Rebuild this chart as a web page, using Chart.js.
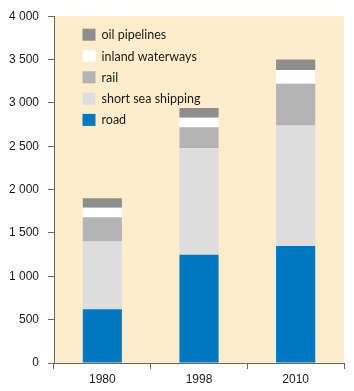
<!DOCTYPE html>
<html>
<head>
<meta charset="utf-8">
<script src="https://cdn.jsdelivr.net/npm/chart.js@4/dist/chart.umd.min.js"></script>
<style>
html,body{margin:0;padding:0;background:#fff;}
#wrap{width:354px;height:391px;position:relative;}
</style>
</head>
<body>
<div id="wrap"><canvas id="c" width="354" height="391"></canvas></div>
<script>
const years = ['1980', '1998', '2010'];
const road = [620, 1250, 1350];
const shortSeaShipping = [780, 1230, 1390];
const rail = [280, 240, 480];
const inlandWaterways = [110, 110, 160];
const oilPipelines = [110, 110, 120];
const yTicks = [0, 500, 1000, 1500, 2000, 2500, 3000, 3500, 4000];

const fmt = v => String(v).replace(/\B(?=(\d{3})+(?!\d))/g, ' ');

const bgPlugin = {
  id: 'bg',
  beforeDraw(chart) {
    const a = chart.chartArea, ctx = chart.ctx;
    ctx.save();
    ctx.fillStyle = '#FEEDCA';
    ctx.fillRect(a.left, a.top, a.right - a.left, a.bottom - a.top);
    ctx.restore();
  }
};

const legendPlugin = {
  id: 'innerLegend',
  afterDatasetsDraw(chart) {
    const a = chart.chartArea, ctx = chart.ctx;
    const ds = chart.data.datasets.slice().reverse();
    ctx.save();
    ctx.font = '12.5px Lato';
    ctx.textBaseline = 'middle';
    ds.forEach((d, i) => {
      const cy = a.top + 18.5 + i * 21.3;
      const x = a.left + 28.5;
      ctx.fillStyle = d.backgroundColor;
      ctx.fillRect(x, cy - 6, 13, 12);
      ctx.fillStyle = '#1a1a1a';
      ctx.fillText(d.label, x + 19, cy + 0.5);
    });
    ctx.restore();
  }
};

const mk = (label, data, color) => ({
  label, data, backgroundColor: color, borderWidth: 0,
  barPercentage: 0.405, categoryPercentage: 1.0
});

new Chart(document.getElementById('c'), {
  type: 'bar',
  data: {
    labels: years,
    datasets: [
      mk('road', road, '#0077C1'),
      mk('short sea shipping', shortSeaShipping, '#DDDDDD'),
      mk('rail', rail, '#B4B4B4'),
      mk('inland waterways', inlandWaterways, '#FFFFFF'),
      mk('oil pipelines', oilPipelines, '#8E8E8E')
    ]
  },
  options: {
    responsive: false,
    animation: false,
    devicePixelRatio: 1,
    layout: { padding: { left: 0, right: 10, top: 14, bottom: 0 } },
    plugins: { legend: { display: false }, tooltip: { enabled: false } },
    scales: {
      x: {
        stacked: true,
        grid: { offset: true, drawOnChartArea: false, drawTicks: true, tickLength: 6, color: '#666' },
        border: { color: '#666', width: 1 },
        ticks: { color: '#1a1a1a', font: { family: 'Liberation Sans, Arial', size: 12 }, padding: 3 },
        afterFit(s) { s.height = 28; }
      },
      y: {
        stacked: true,
        min: 0, max: 4000,
        afterBuildTicks(s) { s.ticks = yTicks.map(v => ({ value: v })); },
        grid: { drawOnChartArea: false, drawTicks: true, tickLength: 6, color: '#666' },
        border: { color: '#666', width: 1 },
        ticks: { color: '#1a1a1a', font: { family: 'Liberation Sans, Arial', size: 12 }, padding: 9, callback: v => fmt(v) },
        afterFit(s) { s.width = 54; }
      }
    }
  },
  plugins: [bgPlugin, legendPlugin]
});
</script>
</body>
</html>
